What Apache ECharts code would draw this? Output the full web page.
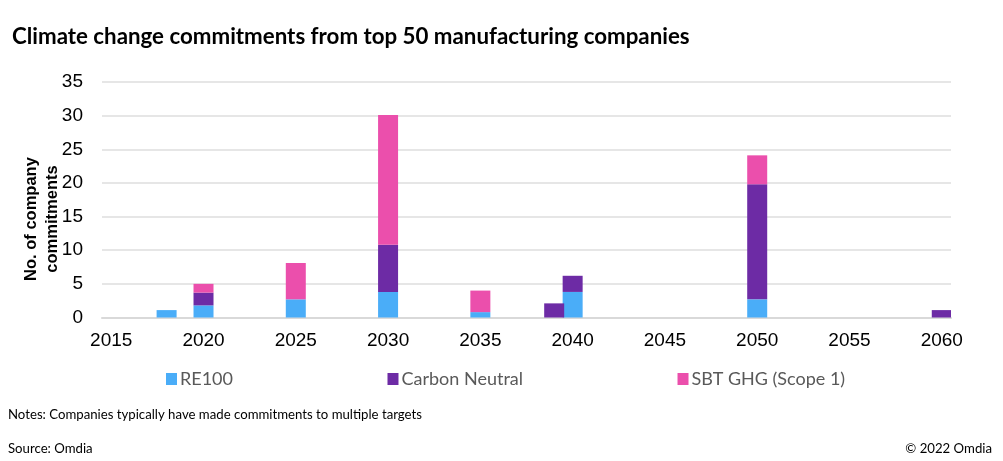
<!DOCTYPE html>
<html>
<head>
<meta charset="utf-8">
<script src="https://cdn.jsdelivr.net/npm/echarts@6/dist/echarts.min.js"></script>
<style>
html,body{margin:0;padding:0;background:#fff;}
#chart{width:1003px;height:461px;}
</style>
</head>
<body>
<div id="chart"></div>
<script>
// ---- data ----
var firstYear = 2015, lastYear = 2060;
var tickLabels = ['2015','2020','2025','2030','2035','2040','2045','2050','2055','2060'];
var seriesNames = ['RE100', 'Carbon Neutral', 'SBT GHG (Scope 1)'];
var re100Years  = [2018, 2020, 2025, 2030, 2035, 2040, 2050];
var re100Values = [1.1, 1.8, 2.7, 3.8, 0.8, 3.8, 2.7];
var carbonYears  = [2020, 2030, 2039, 2040, 2050, 2060];
var carbonValues = [1.9, 7.0, 2.1, 2.4, 17.1, 1.1];
var sbtYears  = [2020, 2025, 2030, 2035, 2050];
var sbtValues = [1.3, 5.4, 19.3, 3.2, 4.3];
var colors = ['#4AADF8', '#6D2BA5', '#EB4FAC'];

var categories = [];
for (var y = firstYear; y <= lastYear; y++) categories.push(String(y));
function toSeries(years, vals) {
  var arr = categories.map(function(){ return null; });
  years.forEach(function(yr, i){ arr[categories.indexOf(String(yr))] = vals[i]; });
  return arr;
}
var seriesData = [toSeries(re100Years, re100Values), toSeries(carbonYears, carbonValues), toSeries(sbtYears, sbtValues)];

var chart = echarts.init(document.getElementById('chart'), null, {renderer: 'canvas'});
chart.setOption({
  animation: false,
  backgroundColor: '#ffffff',
  grid: {left: 102, right: 52, top: 82, bottom: 143.5, containLabel: false},
  title: {
    text: 'Climate change commitments from top 50 manufacturing companies',
    left: 7, top: 21,
    textStyle: {fontFamily: 'Lato', fontWeight: 'bold', fontSize: 22.3, color: '#000'}
  },
  legend: {
    data: seriesNames,
    left: 161, top: 365,
    itemWidth: 11, itemHeight: 12, itemGap: 154.5,
    icon: 'rect',
    textStyle: {fontFamily: 'Lato', fontSize: 18, color: '#595959', padding: [0,0,0,-2]}
  },
  xAxis: {
    type: 'category',
    data: categories,
    boundaryGap: true,
    axisLine: {show: true, lineStyle: {color: '#D9D9D9', width: 2}},
    axisTick: {show: false},
    axisLabel: {
      interval: 0,
      margin: 14,
      fontFamily: 'Liberation Sans', fontSize: 19, color: '#000',
      formatter: function(v){ return tickLabels.indexOf(v) >= 0 ? v : ''; }
    },
    splitLine: {show: false}
  },
  yAxis: {
    type: 'value',
    min: 0, max: 35, interval: 5,
    axisLine: {show: false},
    axisTick: {show: false},
    axisLabel: {margin: 19, fontFamily: 'Liberation Sans', fontSize: 19, color: '#000'},
    splitLine: {lineStyle: {color: '#E6E6E6', width: 2}}
  },
  graphic: [
    {
      type: 'text', x: 42, y: 219, rotation: Math.PI / 2,
      style: {
        text: 'No. of company\ncommitments',
        font: 'bold 16.5px "Liberation Sans"', fill: '#000',
        align: 'center', verticalAlign: 'middle', lineHeight: 21
      }
    },
    {
      type: 'text', left: 8, top: 408,
      style: {text: 'Notes: Companies typically have made commitments to multiple targets',
        font: '13.2px Lato', fill: '#000'}
    },
    {
      type: 'text', left: 8, top: 442,
      style: {text: 'Source: Omdia', font: '13.2px Lato', fill: '#000'}
    },
    {
      type: 'text', right: 11, top: 442,
      style: {text: '\u00A9 2022 Omdia', font: '13.2px Lato', fill: '#000'}
    }
  ],
  series: seriesNames.map(function(name, i){
    return {
      name: name, type: 'bar', stack: 'total',
      data: seriesData[i], barWidth: 20,
      itemStyle: {color: colors[i]}
    };
  })
});
</script>
</body>
</html>
